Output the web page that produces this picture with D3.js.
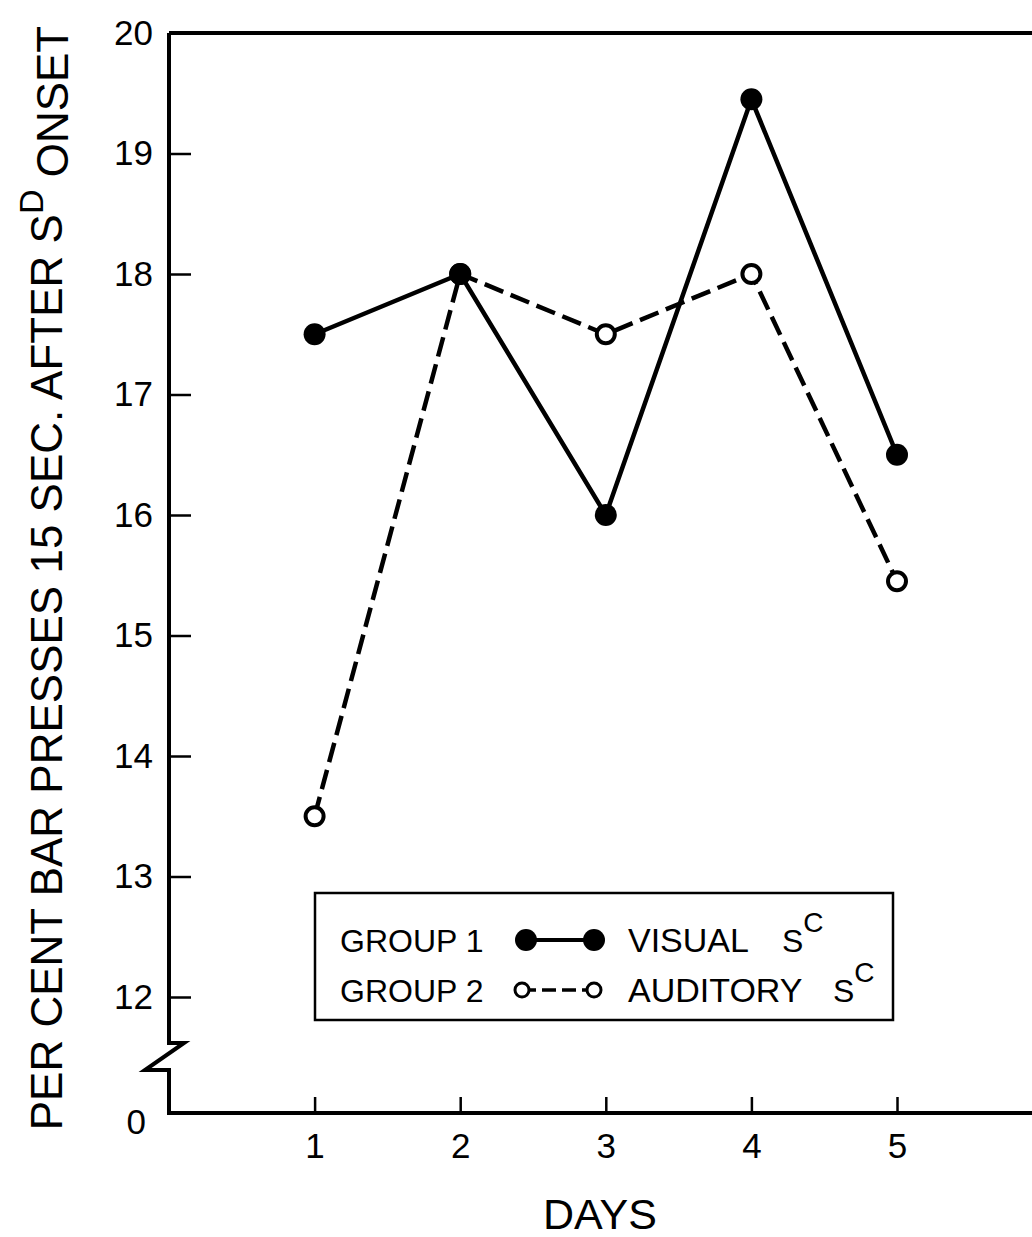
<!DOCTYPE html>
<html>
<head>
<meta charset="utf-8">
<script src="https://cdn.jsdelivr.net/npm/d3@7"></script>
<style>
  html, body { margin: 0; padding: 0; background: #fff; }
  svg { display: block; }
  text { font-family: "Liberation Sans", Arial, sans-serif; fill: #000; }
</style>
</head>
<body>
<svg id="chart" width="1032" height="1237"></svg>
<script>
// Days on the x axis
const days = [1, 2, 3, 4, 5];
// Per cent of bar presses in the 15 s after S^D onset
const visualSC = [17.5, 18.0, 16.0, 19.45, 16.5];    // Group 1, visual S^C
const auditorySC = [13.5, 18.0, 17.5, 18.0, 15.45];  // Group 2, auditory S^C
// Axis tick values
const yTickValues = [12, 13, 14, 15, 16, 17, 18, 19, 20];
const xTickValues = [1, 2, 3, 4, 5];

const svg = d3.select("#chart");
const W = 1032;

const x = d3.scaleLinear().domain([0, 5]).range([169, 897]);
const y = d3.scaleLinear().domain([12, 20]).range([997, 33]);
const yZero = 1113;   // baseline (0) drawn below the broken axis

// Frame: top rule, left axis with a break, and the baseline
svg.append("path")
  .attr("d", `M${x(0)},${y(20)} H${W}`)
  .attr("stroke", "#000").attr("stroke-width", 4).attr("fill", "none");

svg.append("path")
  .attr("d", [
    `M${x(0)},${y(20)}`,
    `V1043`, `H${x(0) + 15}`,
    `L${x(0) - 24},1070`, `H${x(0)}`,
    `V${yZero}`, `H${W}`
  ].join(" "))
  .attr("stroke", "#000").attr("stroke-width", 4)
  .attr("stroke-linejoin", "miter").attr("fill", "none");

// Y axis ticks (pointing inward) and labels
const yAxis = d3.axisLeft(y)
  .tickValues(yTickValues)
  .tickSize(-22)
  .tickPadding(16)
  .tickFormat(d3.format("d"));
const gy = svg.append("g").attr("transform", `translate(${x(0)},0)`).call(yAxis);
gy.select(".domain").remove();
gy.selectAll(".tick line").attr("stroke", "#000").attr("stroke-width", 2.5)
  .filter(d => d === 20).remove();
gy.selectAll(".tick text").attr("font-size", 35).attr("font-family", "Liberation Sans, Arial, sans-serif");

// Zero label for the baseline
svg.append("text")
  .attr("x", 146).attr("y", yZero + 9)
  .attr("text-anchor", "end").attr("dy", "0.35em")
  .attr("font-size", 35).text("0");

// X axis ticks (pointing up into the plot) and labels
const xAxis = d3.axisBottom(x)
  .tickValues(xTickValues)
  .tickSize(-16)
  .tickPadding(20)
  .tickFormat(d3.format("d"));
const gx = svg.append("g").attr("transform", `translate(0,${yZero})`).call(xAxis);
gx.select(".domain").remove();
gx.selectAll(".tick line").attr("stroke", "#000").attr("stroke-width", 2.5);
gx.selectAll(".tick text").attr("font-size", 35).attr("font-family", "Liberation Sans, Arial, sans-serif");

// Axis titles
svg.append("text")
  .attr("x", 600).attr("y", 1229)
  .attr("text-anchor", "middle")
  .attr("font-size", 43)
  .text("DAYS");

const yTitle = svg.append("text")
  .attr("transform", "translate(62,578) rotate(-90)")
  .attr("text-anchor", "middle")
  .attr("font-size", 44);
yTitle.append("tspan").text("PER CENT BAR PRESSES 15 SEC. AFTER S");
yTitle.append("tspan").attr("dy", "-0.55em").attr("font-size", 34).text("D");
yTitle.append("tspan").attr("dy", "0.55em").text(" ONSET");

// Series lines
const line = d3.line().x((d, i) => x(days[i])).y(d => y(d));

svg.append("path")
  .datum(auditorySC)
  .attr("d", line)
  .attr("fill", "none").attr("stroke", "#000")
  .attr("stroke-width", 4.5).attr("stroke-dasharray", "20,8");

svg.append("path")
  .datum(visualSC)
  .attr("d", line)
  .attr("fill", "none").attr("stroke", "#000")
  .attr("stroke-width", 4.5);

// Markers: open circles for Group 2, filled circles for Group 1
svg.append("g").selectAll("circle")
  .data(auditorySC)
  .join("circle")
  .attr("cx", (d, i) => x(days[i]))
  .attr("cy", d => y(d))
  .attr("r", 9)
  .attr("fill", "#fff").attr("stroke", "#000").attr("stroke-width", 4);

svg.append("g").selectAll("circle")
  .data(visualSC)
  .join("circle")
  .attr("cx", (d, i) => x(days[i]))
  .attr("cy", d => y(d))
  .attr("r", 11)
  .attr("fill", "#000");

// Legend
const lg = svg.append("g");
lg.append("rect")
  .attr("x", 315).attr("y", 893).attr("width", 578).attr("height", 127)
  .attr("fill", "#fff").attr("stroke", "#000").attr("stroke-width", 2.5);

const legendRows = [
  { group: "GROUP 1", label: "VISUAL", sx: 782, cy: 940, filled: true },
  { group: "GROUP 2", label: "AUDITORY", sx: 833, cy: 990, filled: false }
];

legendRows.forEach(r => {
  lg.append("text").attr("x", 340).attr("y", r.cy + 12).attr("font-size", 32).text(r.group);
  lg.append("line")
    .attr("x1", r.filled ? 526 : 522).attr("x2", 594).attr("y1", r.cy).attr("y2", r.cy)
    .attr("stroke", "#000").attr("stroke-width", r.filled ? 4 : 3.5)
    .attr("stroke-dasharray", r.filled ? null : "14,6");
  [r.filled ? 526 : 522, 594].forEach(cx => {
    lg.append("circle")
      .attr("cx", cx).attr("cy", r.cy)
      .attr("r", r.filled ? 11 : 7)
      .attr("fill", r.filled ? "#000" : "#fff")
      .attr("stroke", "#000").attr("stroke-width", r.filled ? 0 : 3);
  });
  lg.append("text").attr("x", 628).attr("y", r.cy + 12).attr("font-size", 34).text(r.label);
  const s = lg.append("text").attr("x", r.sx).attr("y", r.cy + 12).attr("font-size", 32);
  s.append("tspan").text("S");
  s.append("tspan").attr("dy", "-0.7em").attr("font-size", 28).text("C");
});
</script>
</body>
</html>
